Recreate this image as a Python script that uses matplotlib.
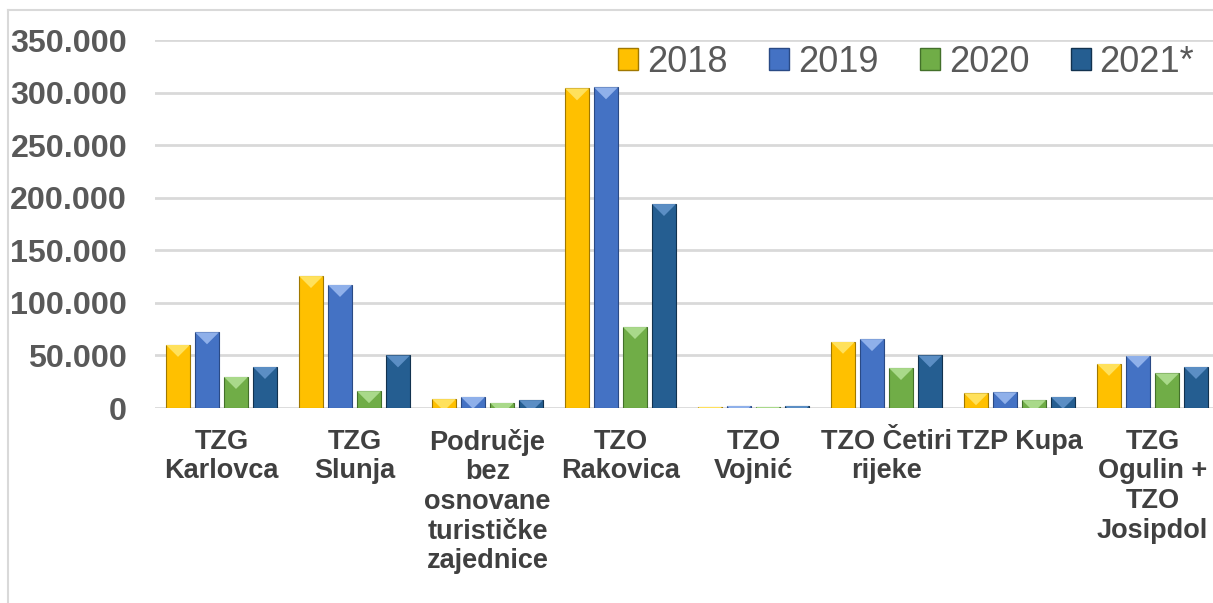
import matplotlib
matplotlib.use("Agg")
import matplotlib.pyplot as plt
import numpy as np
from matplotlib.patches import Polygon, Patch
from matplotlib.lines import Line2D
from matplotlib.ticker import FuncFormatter

categories = ["TZG\nKarlovca", "TZG\nSlunja", "Područje\nbez\nosnovane\nturističke\nzajednice",
              "TZO\nRakovica", "TZO\nVojnić", "TZO Četiri\nrijeke", "TZP Kupa",
              "TZG\nOgulin +\nTZO\nJosipdol"]
years = ["2018", "2019", "2020", "2021*"]
v2018 = [60000, 125500, 8500, 304000, 1000, 63000, 14000, 42000]
v2019 = [72000, 117000, 10500, 305000, 2000, 65500, 15000, 49500]
v2020 = [29500, 16000, 5000, 77000, 1000, 38000, 7500, 33000]
v2021 = [39000, 50000, 7500, 194000, 2000, 50000, 10500, 39000]
series = [v2018, v2019, v2020, v2021]

colors = ["#FFC000", "#4472C4", "#70AD47", "#255E91"]
tops = ["#FFE15C", "#8FB0EA", "#A9D98A", "#5B8EC4"]
edges = ["#A07800", "#2A4A85", "#43702A", "#12324F"]

plt.rcParams['font.family'] = ['Liberation Sans', 'DejaVu Sans']

fig = plt.figure(figsize=(12.13, 6.03), dpi=100)
ax = fig.add_axes([155 / 1213, 195 / 603, 1064 / 1213, 368 / 603])

x = np.arange(len(categories))
width = 0.18
step = 0.218
ax.set_xlim(-0.5, len(categories) - 0.5)
ax.set_ylim(0, 350000)

# pixel -> data scale for the bevel triangles
px_per_y = 368 / 350000
px_per_x = 1064 / len(categories)

for i, vals in enumerate(series):
    offs = (i - 1.5) * step
    bars = ax.bar(x + offs, vals, width, color=colors[i], edgecolor=edges[i],
                  linewidth=0.8, zorder=3)
    for b in bars:
        bx, bw, bh = b.get_x(), b.get_width(), b.get_height()
        dh = (bw * px_per_x / 2) / px_per_y
        tri = Polygon([(bx, bh), (bx + bw, bh), (bx + bw / 2, bh - dh)],
                      closed=True, facecolor=tops[i], edgecolor='none', zorder=4)
        ax.add_patch(tri)
        tri.set_clip_path(b)

ax.yaxis.set_major_formatter(FuncFormatter(lambda v, p: f"{int(v):,}".replace(",", ".")))
ax.set_yticks(np.arange(0, 350001, 50000))
ax.grid(axis='y', color='#D9D9D9', linewidth=2, zorder=0)
ax.set_axisbelow(True)
for s in ax.spines.values():
    s.set_visible(False)
ax.tick_params(axis='y', length=0, pad=20, labelsize=23.2, labelcolor='#595959')
for lbl in ax.get_yticklabels():
    lbl.set_fontweight('bold')
ax.set_xticks(x)
ax.set_xticklabels(categories, fontsize=19.5, fontweight='bold', color='#404040',
                   linespacing=1.18)
ax.tick_params(axis='x', length=0, pad=15)

handles = [Patch(facecolor=colors[i], edgecolor=edges[i], label=years[i]) for i in range(4)]
fig.legend(handles=handles, loc='center', bbox_to_anchor=(0.747, 0.897), ncol=4,
           frameon=False, fontsize=26, handlelength=0.55, handleheight=0.55,
           handletextpad=0.25, columnspacing=1.15, labelcolor='#595959')

# chart container border (left and top)
fig.add_artist(Line2D([8 / 1213, 8 / 1213], [0, 1 - 10 / 603], color='#D9D9D9', lw=1.5))
fig.add_artist(Line2D([8 / 1213, 1], [1 - 10 / 603, 1 - 10 / 603], color='#D9D9D9', lw=1.5))

fig.savefig("out.png", dpi=100)
